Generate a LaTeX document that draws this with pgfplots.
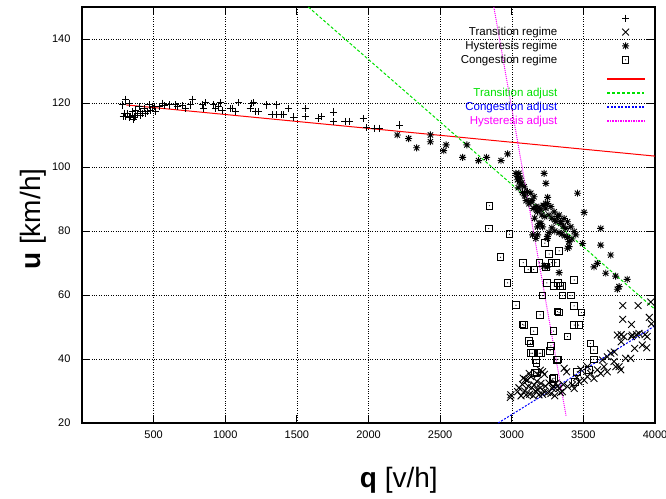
\documentclass[border=0pt]{standalone}
\usepackage{fontspec}
\setmainfont{Liberation Sans}
\usepackage{pgfplots}
\pgfplotsset{compat=1.18}

\definecolor{gpred}{RGB}{255,0,0}
\definecolor{gpgreen}{RGB}{0,225,0}
\definecolor{gpblue}{RGB}{0,0,255}
\definecolor{gpmag}{RGB}{255,0,255}

% gnuplot style point types: "*" (plus and cross) and box with a dot
\pgfdeclareplotmark{gpstar}{%
  \pgfpathmoveto{\pgfqpoint{-\pgfplotmarksize}{0pt}}\pgfpathlineto{\pgfqpoint{\pgfplotmarksize}{0pt}}%
  \pgfpathmoveto{\pgfqpoint{0pt}{-\pgfplotmarksize}}\pgfpathlineto{\pgfqpoint{0pt}{\pgfplotmarksize}}%
  \pgfpathmoveto{\pgfqpoint{-0.75\pgfplotmarksize}{-0.75\pgfplotmarksize}}\pgfpathlineto{\pgfqpoint{0.75\pgfplotmarksize}{0.75\pgfplotmarksize}}%
  \pgfpathmoveto{\pgfqpoint{-0.75\pgfplotmarksize}{0.75\pgfplotmarksize}}\pgfpathlineto{\pgfqpoint{0.75\pgfplotmarksize}{-0.75\pgfplotmarksize}}%
  \pgfusepathqstroke}
\pgfdeclareplotmark{gpbox}{%
  \pgfpathrectangle{\pgfqpoint{-\pgfplotmarksize}{-\pgfplotmarksize}}{\pgfqpoint{2\pgfplotmarksize}{2\pgfplotmarksize}}%
  \pgfusepathqstroke
  \pgfpathcircle{\pgfpointorigin}{0.6pt}\pgfusepathqfill}

\begin{document}
\begin{tikzpicture}
\useasboundingbox (-82pt,-75pt) rectangle (584pt,423pt);
\begin{axis}[
  at={(0,0)}, anchor=south west,
  scale only axis, width=573pt, height=416pt,
  xmin=0, xmax=4000, ymin=20, ymax=150,
  xtick={500,1000,...,4000}, ytick={20,40,...,140},
  /pgf/number format/1000 sep={},
  /pgf/number format/assume math mode=true,
  ticklabel style={font=\fontsize{11}{13}\selectfont},
  xticklabel style={yshift=-4pt},
  yticklabel style={xshift=-8pt},
  tick align=inside, major tick length=8pt,
  tick style={black, line width=0.9pt},
  axis line style={line width=1.3pt},
  grid=major,
  major grid style={black, line width=0.5pt, dash pattern=on 0.8pt off 1.6pt},
  xlabel={\textbf{q} [v/h]},
  xlabel style={font=\fontsize{28}{32}\selectfont, at={(axis description cs:0.553,-0.154)}, anchor=base},
  ylabel={\textbf{u} [km/h]},
  ylabel style={font=\fontsize{28}{32}\selectfont, at={(axis description cs:-0.073,0.49)}, anchor=base},
  legend cell align=right, legend plot pos=right,
  legend image code/.code={\draw[mark repeat=2,mark phase=2,#1] plot coordinates {(0pt,0pt) (18.5pt,0pt) (37pt,0pt)};},
  legend style={draw=none, fill=none, at={(1,1)}, anchor=north east, xshift=-10pt, yshift=-4pt,
    inner sep=0pt, column sep=48pt, row sep=0pt, font=\fontsize{11.5}{13}\selectfont,
    nodes={inner sep=1pt, text height=9.2pt, text depth=2.7pt}},
]
% free-flow points
\addplot[only marks, mark=+, mark size=3.6pt, black, line width=0.9pt] coordinates {
(306,121.2) (329,119.9) (294,116.8) (318,116.6) (341,115.9) (363,115.5) (375,117.8) (398,118.8)
(410,117.3) (433,118.3) (445,116.8) (468,119.4) (480,117.8) (503,118.8) (515,117.3) (538,118.8)
(561,119.9) (573,119.2) (608,119.4) (653,119.4) (665,118.8) (700,119.1) (723,118.3) (758,119.4)
(770,121.2) (839,119.4) (850,118.3) (862,120.1) (920,119.4) (931,118.3) (955,118.8) (966,120.1)
(978,117.6) (1036,118.3) (1048,118.3) (1071,117.4) (1094,120.1) (1175,118.3) (1186,119.9) (1198,120.1)
(1210,117.3) (1233,117.3) (1291,119.4) (1326,116.3) (1360,119.4) (1360,116.3) (1395,116.3) (1406,116.3)
(1441,118.3) (1476,115.6) (1558,118.2) (1558,115.8) (1650,115.3) (1673,115.7) (1755,117.2) (1755,114.2)
(1836,114.2) (1870,114.2) (1963,115.2) (1986,112.3) (2044,112.1) (2079,112.1) (2218,113.1) (287,115.9)
(306,115.7) (334,115.5) (357,115.0) (387,116.6) (421,116.6) (456,117.3) (283,119.4) (352,117.3)
(491,118.8) (370,116.0) (410,116.2)
};
\addlegendentry{\mbox{}}
% transition points
\addplot[only marks, mark=x, mark size=4.8pt, black, line width=0.9pt] coordinates {
(2994,28.8) (3041,29.8) (3110,33.4) (3133,34.5) (3156,31.9) (3180,30.3) (3203,32.4) (3215,36.0)
(3226,29.8) (3273,29.2) (3284,30.8) (3308,32.4) (3331,30.8) (3354,29.8) (3366,37.1) (3389,31.4)
(3424,31.9) (3436,30.8) (3470,32.9) (3505,33.4) (3528,34.5) (3551,35.5) (3574,33.9) (3598,36.6)
(3621,35.5) (3644,37.6) (3667,36.0) (3633,39.7) (3667,40.7) (3691,41.8) (3714,39.2) (3726,37.6)
(3749,37.6) (3761,36.6) (3795,40.2) (3830,40.2) (3737,47.5) (3783,47.0) (3841,47.5) (3888,48.0)
(3911,44.4) (3945,47.0) (3482,36.8) (3528,37.6) (3775,56.7) (3882,56.7) (3775,52.4) (3836,50.8)
(3764,47.6) (3836,47.0) (3870,47.6) (3930,47.6) (3942,43.5) (3858,43.3) (3764,45.4) (3716,42.2)
(2990,28.0) (3096,33.6) (3180,35.2) (3228,35.2) (3383,36.0) (3454,34.2) (3970,57.8) (3975,51.0)
(3960,53.0) (3050,31.0) (3065,28.5) (3075,32.0) (3090,30.0) (3100,28.8) (3115,31.5) (3125,29.0)
(3140,31.0) (3150,28.5) (3165,30.0) (3175,33.0) (3190,28.8) (3200,31.0) (3215,29.0) (3235,31.5)
(3250,29.5) (3260,32.5) (3290,31.5) (3300,28.5) (3320,31.5) (3340,29.5) (3360,32.0) (3080,34.0)
(3122,35.5) (3200,36.5)
};
\addlegendentry{Transition regime}
% hysteresis points
\addplot[only marks, mark=gpstar, mark size=3.5pt, black, line width=0.9pt] coordinates {
(2201,110.0) (2280,108.9) (2336,106.0) (2432,110.0) (2432,107.9) (2525,105.1) (2542,106.9) (2657,103.0)
(2687,106.9) (2768,102.0) (2824,103.0) (2925,102.0) (2971,104.1) (3029,98.0) (3041,97.0) (3052,95.4)
(3064,94.4) (3087,93.8) (3110,92.3) (3133,91.8) (3156,90.7) (3133,89.2) (3168,87.6) (3203,86.6)
(3238,87.1) (3249,88.6) (3273,87.6) (3296,86.0) (3331,85.0) (3366,83.9) (3389,82.9) (3412,81.3)
(3436,79.8) (3447,78.8) (3377,80.8) (3343,82.4) (3308,82.9) (3191,82.4) (3215,81.3) (3180,78.8)
(3168,77.7) (3249,77.7) (3400,76.7) (3389,74.6) (3494,76.1) (3226,98.0) (3238,94.9) (3459,91.8)
(3505,85.8) (3621,80.8) (3621,75.6) (3691,72.5) (3598,69.9) (3574,68.8) (3249,68.8) (3656,66.8)
(3725,65.9) (3806,64.9) (3749,62.6) (3737,61.8) (3249,78.3) (3226,69.1) (3331,67.0) (3400,75.1)
(3145,78.8) (3203,82.4) (3180,81.3) (3040,96.0) (3050,98.0) (3060,96.5) (3070,95.0) (3045,93.5)
(3075,92.0) (3090,91.0) (3100,89.5) (3120,88.5) (3140,89.5) (3150,87.0) (3180,86.0) (3190,87.5)
(3210,85.0) (3230,84.5) (3260,85.0) (3280,84.0) (3300,83.5) (3320,84.5) (3340,83.0) (3360,81.5)
(3280,81.0) (3300,80.0) (3330,79.5) (3350,79.0) (3370,78.5) (3390,78.0) (3420,77.5) (3260,79.5)
(3160,84.0) (3175,86.5) (3220,88.0) (3237,88.6) (3250,90.5)
};
\addlegendentry{Hysteresis regime}
% congestion points
\addplot[only marks, mark=gpbox, mark size=3.3pt, black, line width=0.9pt] coordinates {
(2844,87.9) (2839,80.8) (2984,79.0) (2921,71.8) (2971,63.8) (3029,56.8) (3076,50.8) (3153,48.7)
(3118,45.7) (3130,44.9) (3134,41.8) (3192,41.8) (3169,39.7) (3173,38.8) (3164,35.7) (3284,33.8)
(3273,44.1) (3268,42.6) (3291,48.7) (3315,39.7) (3389,47.0) (3198,53.8) (3319,54.8) (3214,59.8)
(3354,59.8) (3412,59.8) (3245,63.8) (3296,62.8) (3338,62.8) (3354,62.8) (3324,63.8) (3080,70.1)
(3115,68.0) (3153,68.0) (3192,70.1) (3238,68.7) (3277,70.1) (3308,70.1) (3261,72.8) (3331,73.8)
(3231,76.2) (3436,64.7) (3436,56.6) (3436,50.6) (3486,54.5) (3330,54.5) (3085,50.6) (3467,50.6)
(3549,44.9) (3572,42.8) (3572,39.9) (3537,36.6) (3457,36.0) (3175,35.8) (3295,34.0) (3323,39.9)
(3440,32.9) (3145,41.8) (3203,41.8)
};
\addlegendentry{Congestion regime}
% spacer row in the legend
\addlegendimage{empty legend}
\addlegendentry[text height=5.5pt, text depth=0pt, inner sep=0pt]{\mbox{}}
% fitted lines
\addplot[gpred, line width=1pt,
  legend image code/.code={\fill[gpred] (0pt,-0.7pt) rectangle (37pt,0.7pt);}]
  coordinates {(309,119.4) (4000,103.4)};
\addlegendentry{\mbox{}}
\addplot[gpgreen, line width=1pt, dash pattern=on 3pt off 2pt,
  legend image code/.code={\draw[gpgreen, line width=1.4pt, dash pattern=on 3pt off 2pt] (0pt,0pt) -- (37pt,0pt);}]
  coordinates {(1580,150) (4000,55.5)};
\addlegendentry[text=gpgreen]{Transition adjust}
\addplot[gpblue, line width=1pt, dash pattern=on 2pt off 1.5pt,
  legend image code/.code={\draw[gpblue, line width=1.4pt, dash pattern=on 2pt off 1.5pt] (0pt,0pt) -- (37pt,0pt);}]
  coordinates {(2905,20) (4000,50.4)};
\addlegendentry[text=gpblue]{Congestion adjust}
\addplot[gpmag, line width=1pt, dash pattern=on 1pt off 1pt,
  legend image code/.code={\draw[gpmag, line width=1.4pt, dash pattern=on 1.6pt off 1pt] (0pt,0pt) -- (37pt,0pt);}]
  coordinates {(2875,150) (3380,22)};
\addlegendentry[text=gpmag]{Hysteresis adjust}
\end{axis}
\end{tikzpicture}
\end{document}
